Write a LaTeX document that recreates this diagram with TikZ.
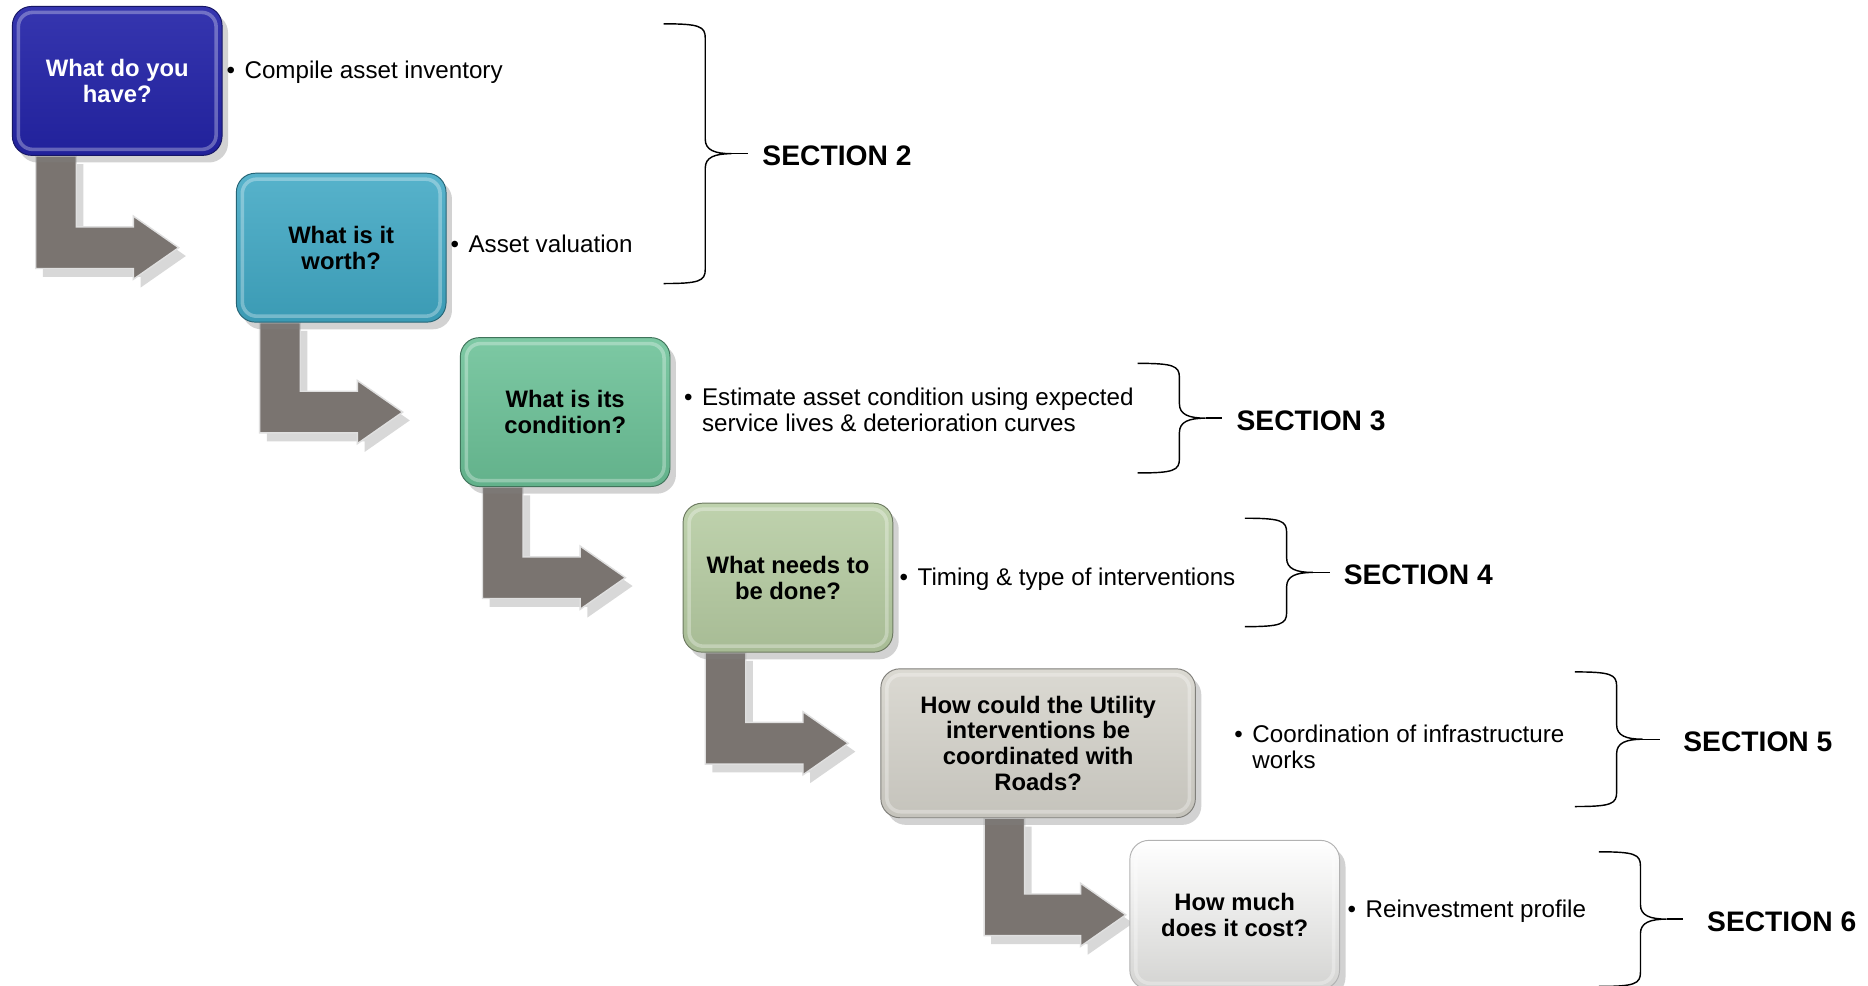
\documentclass[tikz,border=0pt]{standalone}
\usepackage{fontspec}
\setmainfont{Liberation Sans}
\usepackage{xcolor}
\usetikzlibrary{calc, positioning}
\usetikzlibrary{shadows}
\usetikzlibrary{backgrounds}

\definecolor{qblue}{HTML}{2424A8}
\definecolor{qteal}{HTML}{40A8C4}
\definecolor{qgreen}{HTML}{6BC197}
\definecolor{qsage}{HTML}{B6CCA2}
\definecolor{qgrey}{HTML}{D6D4CC}
\definecolor{qwhite}{HTML}{E6E6E4}
\definecolor{arrowgrey}{HTML}{7A7470}

\tikzset{
  qbox/.style={rectangle, rounded corners=16pt, anchor=north west,
    minimum width=176pt, minimum height=125pt, inner sep=4pt, align=center,
    font=\fontsize{20}{21.5}\selectfont\bfseries, line width=0.8pt,
    top color=#1!88!white, bottom color=#1!92!black, draw=#1!60!black,
    drop shadow={shadow xshift=5pt, shadow yshift=-6pt, opacity=0.35},
    path picture={\draw[white, opacity=0.3, line width=3pt, rounded corners=12pt]
      ([shift={(5pt,-5pt)}]path picture bounding box.north west) rectangle
      ([shift={(-5pt,5pt)}]path picture bounding box.south east);}},
  bul/.style={anchor=west, align=left, inner sep=0pt,
    font=\fontsize{20.3}{22}\selectfont},
  sec/.style={anchor=west, inner sep=0pt, outer sep=12pt,
    font=\fontsize{23.7}{26}\selectfont\bfseries},
  brace/.style={draw=black, line width=1.2pt},
  bentarrow/.style={fill=arrowgrey, draw=gray!25, line width=1.2pt,
    drop shadow={shadow xshift=6pt, shadow yshift=-7pt, opacity=0.3}}
}
\newcommand{\bl}{\textbullet\hspace{8pt}}

\begin{document}
\begin{tikzpicture}[x=1pt,y=-1pt]
\useasboundingbox (0,0) rectangle (1568,827);

% Question boxes
\node[qbox=qblue, text=white, top color=qblue!92!white] (q1) at (10,5) {What do you\\have?};
\node[qbox=qteal] (q2) at (198,145) {What is it\\worth?};
\node[qbox=qgreen] (q3) at (386,283) {What is its\\condition?};
\node[qbox=qsage] (q4) at (573,422) {What needs to\\be done?};
\node[qbox=qgrey, minimum width=264pt] (q5) at (739,561)
  {How could the Utility\\interventions be\\coordinated with\\Roads?};
\node[qbox=qwhite, top color=white, draw=gray!60] (q6) at (948,705)
  {How much\\does it cost?};

% Bullet texts
\node[bul] (b1) at (190,61) {\bl Compile asset inventory};
\node[bul] (b2) at (378,205) {\bl Asset valuation};
\node[bul] (b3) at (574,344) {\bl Estimate asset condition using expected\\
  \phantom{\bl}service lives \& deterioration curves};
\node[bul] (b4) at (755,486) {\bl Timing \& type of interventions};
\node[bul] (b5) at (1036,627) {\bl Coordination of infrastructure\\
  \phantom{\bl}works};
\node[bul] (b6) at (1131,765) {\bl Reinvestment profile};

% Section braces
\foreach \n/\xl/\yt/\yb/\lx in {2/557/20/238/36, 3/955/305/397/36,
    4/1045/435/526/36, 5/1322/564/677/44, 6/1342/715/828/44}{
  \pgfmathsetmacro\xv{\xl+35}
  \pgfmathsetmacro\ym{(\yt+\yb)/2}
  \node[sec] (s\n) at (\xv+\lx,\ym+2) {SECTION \n};
  \draw[brace] (\xl,\yt) .. controls (\xl+30,\yt) and (\xv,\yt+2) .. (\xv,\yt+12)
    -- (\xv,\ym-12) .. controls (\xv,\ym-3) and (\xv+8,\ym) .. (\xv+22,\ym)
    .. controls (\xv+8,\ym) and (\xv,\ym+3) .. (\xv,\ym+12)
    -- (\xv,\yb-12) .. controls (\xv,\yb-2) and (\xl+30,\yb) .. (\xl,\yb);
  \draw[brace] (\xv+22,\ym) -- (\xv+36,\ym);
}

% Bent arrows between the boxes
\begin{scope}[on background layer]
\fill[white] (0,0) rectangle (1568,827);
\foreach \a/\b/\sx/\gap in {q1/q2/20pt/48pt, q2/q3/20pt/48pt, q3/q4/19pt/48pt,
    q4/q5/19pt/27pt, q5/q6/87pt/3pt}{
  \draw[bentarrow] let \p1 = ($(\a.south west)+(\sx,0)$), \p2 = (\b.west) in
    (\x1,\y1) -- (\x1,\y2-17.5pt) -- (\x2-\gap-38pt,\y2-17.5pt)
    -- (\x2-\gap-38pt,\y2-26.5pt) -- (\x2-\gap,\y2)
    -- (\x2-\gap-38pt,\y2+26.5pt) -- (\x2-\gap-38pt,\y2+17.5pt)
    -- (\x1+34pt,\y2+17.5pt) -- (\x1+34pt,\y1) -- cycle;
}
\end{scope}
\end{tikzpicture}
\end{document}
